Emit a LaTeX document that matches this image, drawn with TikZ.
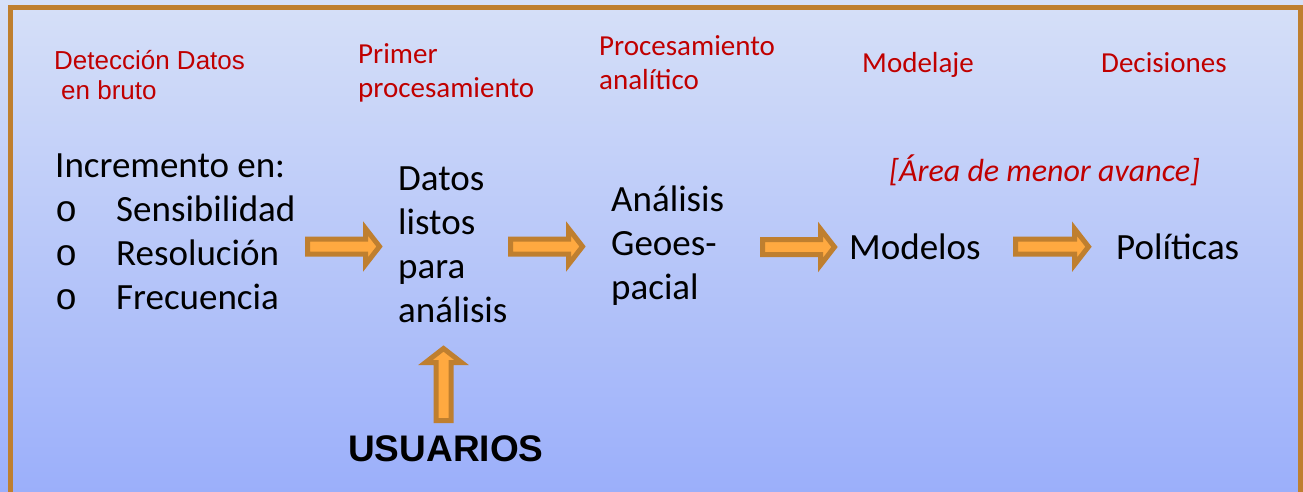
\documentclass[tikz,border=0pt]{standalone}
\usepackage{fontspec}
\setmainfont{Carlito}
\newfontfamily\arialf{Liberation Sans}
\newfontfamily\monof{Liberation Mono}
\definecolor{redt}{HTML}{C00000}
\definecolor{brn}{HTML}{BF7F2F}
\definecolor{org}{HTML}{FFA940}
\definecolor{bgtop}{HTML}{D6E0F8}
\definecolor{bgbot}{HTML}{9BAFFA}
\tikzset{
  arrowstyle/.style={fill=org, draw=brn, line width=5pt, line join=miter},
  title/.style={anchor=base west, inner sep=0pt, text=redt, align=left, font=\fontsize{29}{34}\selectfont},
  main/.style={anchor=base west, inner sep=0pt, text=black, align=left, font=\fontsize{37}{44}\selectfont},
}
\newcommand\barrow[4]{%
  \begin{scope}[shift={(#1,#2)},rotate=#4]
    \filldraw[arrowstyle] (0,-7.5) -- ({#3-14},-7.5) -- ({#3-14},-18) -- (#3,0) -- ({#3-14},18) -- ({#3-14},7.5) -- (0,7.5) -- cycle;
  \end{scope}}
\begin{document}
\begin{tikzpicture}[x=1pt,y=-1pt]
\useasboundingbox (0,0) rectangle (1303,492);
\shade[top color=bgtop, bottom color=bgbot] (0,0) rectangle (1303,492);
\draw[brn, line width=5pt] (10.5,7.5) rectangle (1300.5,494.5);

% titles (multi-line nodes: base = last line's baseline)
\node[title, font=\arialf\fontsize{26}{30.5}\selectfont] (t1) at (54,100) {Detección Datos\\\hspace*{7pt}en bruto};
\node[title] (t2) at (358,97.3) {Primer\\procesamiento};
\node[title] (t3) at (599,89.3) {Procesamiento\\analítico};
\node[title] (t4) at (862,73) {Modelaje};
\node[title] (t5) at (1101,73) {Decisiones};
\node[title, font=\itshape\fontsize{32}{34}\selectfont] (t6) at (889,181) {[Área de menor avance]};

% main texts
\node[main] (inc) at (55,309) {Incremento en:\\
  \makebox[61pt][l]{\monof o}Sensibilidad\\
  \makebox[61pt][l]{\monof o}Resolución\\
  \makebox[61pt][l]{\monof o}Frecuencia};
\node[main] (datos) at (398,322) {Datos\\listos\\para\\análisis};
\node[main] (anal) at (611,299) {Análisis\\Geoes-\\pacial};
\node[main] (mod) at (849,259) {Modelos};
\node[main] (pol) at (1116,259) {Políticas};
\node[anchor=base west, inner sep=0pt, font=\arialf\bfseries\fontsize{37}{44}\selectfont] (usu) at (348,461) {USUARIOS};

% block arrows
\barrow{307.5}{246.5}{72}{0}
\barrow{510.5}{246.5}{72}{0}
\barrow{762.5}{247}{72}{0}
\barrow{1015.5}{246.7}{73}{0}
\barrow{443.5}{420.5}{72}{90}
\end{tikzpicture}
\end{document}
